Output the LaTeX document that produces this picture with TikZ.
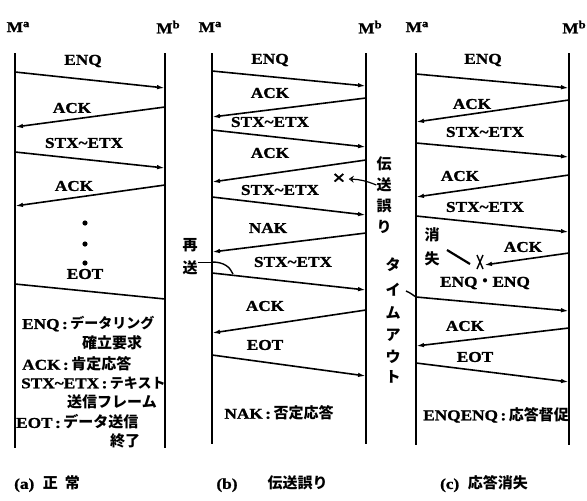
\documentclass[tikz,border=0pt]{standalone}
\usepackage{fontspec}
\setmainfont{Liberation Serif}[FakeStretch=1.15, BoldFont={Liberation Serif Bold}, BoldFeatures={FakeBold=1.2}]
\newfontfamily\jp{Noto Sans CJK JP}
\usetikzlibrary{arrows.meta,calc}
\newcommand\J[1]{{\jp\bfseries #1}}
\newcommand\Jc{\,:\,}
\newcommand\Msup[1]{M\raisebox{5pt}{\fontsize{11}{11}\selectfont #1}}
\newcommand\msgline[6]{%
  \coordinate (#1s) at (#2,#3); \coordinate (#1e) at (#4,#5);
  \draw[#6] (#1s) -- (#1e);}
\tikzset{
  life/.style={line width=1.8pt},
  msg/.style={line width=1.6pt,-{Latex[length=8pt,width=4.5pt]}},
  plainmsg/.style={line width=1.6pt},
  lab/.style={font=\fontsize{15}{15}\selectfont\bfseries, inner sep=0pt},
  jt/.style={font=\fontsize{15}{17}\selectfont\bfseries, inner sep=0pt},
  vt/.style={font=\jp\fontsize{15}{15}\selectfont\bfseries, inner sep=0pt},
}
\begin{document}
\begin{tikzpicture}[x=1pt,y=-1pt]
\useasboundingbox (0,0) rectangle (587,501);
% ---------------- lifelines ----------------
\foreach \n/\x/\yb in {aL/15/448, aR/165/448, bL/212/444, bR/366/444, cL/416/445, cR/569/445}{
  \coordinate (\n0) at (\x,53); \coordinate (\n1) at (\x,\yb);
  \draw[life] (\n0) -- (\n1);
}
% headers
\node[lab] (aMa) at (18,27) {\Msup{a}};
\node[lab] (aMb) at (168,27) {\Msup{b}};
\node[lab] (bMa) at (210,27) {\Msup{a}};
\node[lab] (bMb) at (370,27) {\Msup{b}};
\node[lab] (cMa) at (417,27) {\Msup{a}};
\node[lab] (cMb) at (574,27) {\Msup{b}};

% ---------------- panel (a) ----------------
\node[lab] (a1) at (83,61) {ENQ};
\msgline{am1}{15}{72}{165}{88}{msg}
\node[lab] (a2) at (72,108) {ACK};
\msgline{am2}{165}{107}{15}{127}{msg}
\node[lab] (a3) at (84,143) {STX\textasciitilde ETX};
\msgline{am3}{15}{152}{165}{168}{msg}
\node[lab] (a4) at (74,186) {ACK};
\msgline{am4}{165}{185}{15}{206}{msg}
\foreach \k/\yy in {1/223,2/244,3/263}{\fill (85,\yy) circle (2.6pt) coordinate (adot\k);}
\node[lab] (a5) at (85,274) {EOT};
\msgline{am5}{15}{284}{165}{299}{plainmsg}
\node[jt,anchor=west] (at1) at (22,324) {ENQ\Jc{\fontsize{14}{14}\selectfont\J{データリング}}};
\node[jt,anchor=west] (at2) at (82,343) {\J{確立要求}};
\node[jt,anchor=west] (at3) at (22,364) {ACK\Jc\J{肯定応答}};
\node[jt,anchor=west] (at4) at (21,383) {STX\textasciitilde ETX\Jc{\fontsize{14}{14}\selectfont\J{テキスト}}};
\node[jt,anchor=west] (at5) at (67,402) {\J{送信フレーム}};
\node[jt,anchor=west] (at6) at (16,422) {EOT\Jc\J{データ送信}};
\node[jt,anchor=west] (at7) at (110,441) {\J{終了}};
\node[jt] (acap) at (47,484) {(a)\ \ \J{正\ \ 常}};

% ---------------- panel (b) ----------------
\node[lab] (b1) at (270,60) {ENQ};
\msgline{bm1}{212}{71}{366}{86}{msg}
\node[lab] (b2) at (270,93) {ACK};
\msgline{bm2}{366}{98}{212}{117}{msg}
\node[lab] (b3) at (270,122) {STX\textasciitilde ETX};
\msgline{bm3}{212}{130}{366}{147}{msg}
\node[lab] (b4) at (270,153) {ACK};
\msgline{bm4}{366}{160}{212}{182}{msg}
\node[lab] (b5) at (280,190) {STX\textasciitilde ETX};
\msgline{bm5}{212}{197}{366}{215}{msg}
\node[font=\fontsize{20}{20}\selectfont\bfseries, inner sep=0pt] (bx) at (339,179) {×};
\node[lab] (b6) at (268,228) {NAK};
\msgline{bm6}{366}{233}{212}{252}{msg}
\node[lab] (b7) at (293,262) {STX\textasciitilde ETX};
\msgline{bm7}{212}{273}{366}{290}{msg}
\node[lab] (b8) at (265,306) {ACK};
\msgline{bm8}{366}{310}{212}{333}{msg}
\node[lab] (b9) at (265,345) {EOT};
\msgline{bm9}{212}{355}{366}{376}{msg}
\node[jt] (bt1) at (279,413) {NAK\Jc\J{否定応答}};
\node[jt] (bcap) at (272,484) {(b)\qquad\J{伝送誤り}};
% vertical notes
\node[vt] (bv1) at (384,164) {伝};
\node[vt] (bv2) at (384,185) {送};
\node[vt] (bv3) at (384,206) {誤};
\node[vt] (bv4) at (384,227) {り};
\draw[line width=1.2pt,-{Stealth[length=5pt,width=7pt,open]}] (bv2.west) to[bend right=10] ([xshift=3pt]bx.east);
\node[vt] (bt1v) at (393,265) {タ};
\node[vt] (bt2v) at (393,290) {イ};
\node[vt] (bt3v) at (393,313) {ム};
\node[vt] (bt4v) at (393,335) {ア};
\node[vt] (bt5v) at (393,357) {ウ};
\node[vt] (bt6v) at (393,377) {ト};
% resend
\node[vt] (br1) at (190,245) {再};
\node[vt] (br2) at (190,268) {送};
\coordinate (brc) at (212,262);
\draw[line width=1pt] (br2.east |- brc) -- (brc);
\draw[line width=1.4pt] (brc) .. controls (224,262) and (230,267) .. (233,274);

% ---------------- panel (c) ----------------
\node[lab] (c1) at (483,60) {ENQ};
\msgline{cm1}{416}{74}{569}{88}{msg}
\node[lab] (c2) at (472,104) {ACK};
\msgline{cm2}{569}{100}{416}{122}{msg}
\node[lab] (c3) at (485,132) {STX\textasciitilde ETX};
\msgline{cm3}{416}{143}{569}{157}{msg}
\node[lab] (c4) at (460,176) {ACK};
\msgline{cm4}{569}{175}{416}{197}{msg}
\node[lab] (c5) at (485,207) {STX\textasciitilde ETX};
\msgline{cm5}{416}{216}{569}{232}{msg}
\node[lab] (c6) at (523,247) {ACK};
\coordinate (cxm) at (480,262);
\msgline{cm6}{569}{253}{484}{265}{msg}
\draw[line width=1.4pt] ($(cxm)+(-3,-7)$) -- ($(cxm)+(3,7)$);
\draw[line width=1.4pt] ($(cxm)+(3,-7)$) -- ($(cxm)+(-3,7)$);
\node[vt] (cv1) at (432,235) {消};
\node[vt] (cv2) at (432,259) {失};
\coordinate (cp1) at (447,250); \coordinate (cp2) at (470,264);
\draw[line width=2.2pt] (cp1) -- (cp2);
\node[lab] (c7) at (485,283) {ENQ\J{・}ENQ};
\msgline{cm7}{416}{297}{569}{311}{msg}
\coordinate (ct1) at (406,291);
\draw[line width=1.4pt] (ct1) .. controls (411,293) and (414,296) .. (cm7s);
\node[lab] (c8) at (465,326) {ACK};
\msgline{cm8}{569}{328}{416}{346}{msg}
\node[lab] (c9) at (475,357) {EOT};
\msgline{cm9}{416}{363}{569}{382}{msg}
\node[jt] (ct) at (496,415) {ENQENQ\Jc\J{応答督促}};
\node[jt] (ccap) at (484,484) {(c)\ \ \J{応答消失}};
\end{tikzpicture}
\end{document}
